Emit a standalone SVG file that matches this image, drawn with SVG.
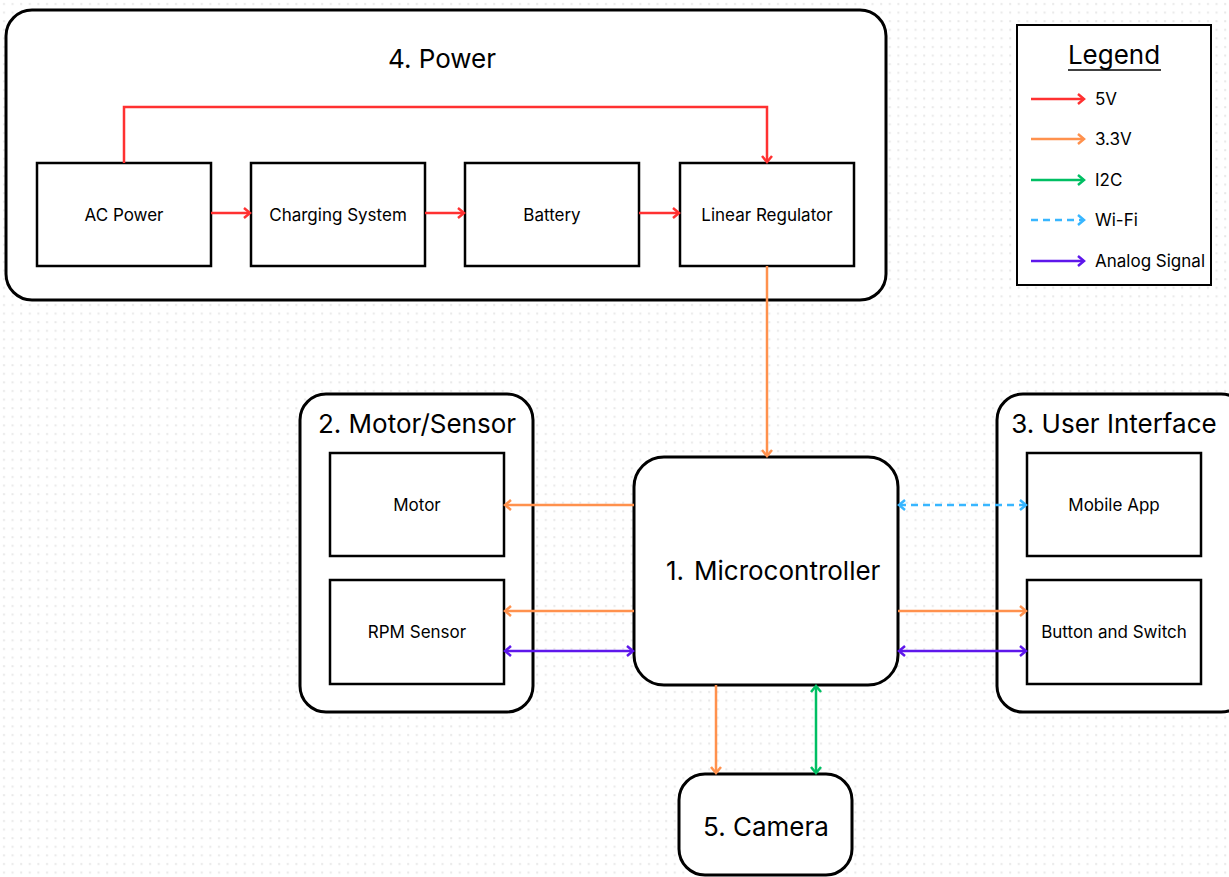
<svg xmlns="http://www.w3.org/2000/svg" width="1229" height="877" viewBox="0 0 1229 877">
<style>
.grp{fill:#fff;stroke:#000;stroke-width:3}
.box{fill:#fff;stroke:#000;stroke-width:2.5}
.t{font-family:Inter,"Liberation Sans",sans-serif;fill:#000;text-anchor:middle}
.sm{font-size:17px}
.lg{font-size:26px}
.ln{fill:none;stroke-width:2.5}
.r{stroke:#ff3131}
.o{stroke:#ff914d}
.g{stroke:#00bf63}
.b{stroke:#38b6ff;stroke-dasharray:7 5}
.p{stroke:#5e17eb}
</style>
<defs>
<pattern id="dots" width="8.6" height="8.6" patternUnits="userSpaceOnUse">
<rect x="3" y="3" width="2" height="2" fill="#e8e8e8"/>
</pattern>
<marker id="mr" markerUnits="userSpaceOnUse" markerWidth="12" markerHeight="14" refX="9" refY="6" orient="auto-start-reverse"><path d="M3,1 L9,6 L3,11" fill="none" stroke="#ff3131" stroke-width="2.5"/></marker>
<marker id="mo" markerUnits="userSpaceOnUse" markerWidth="12" markerHeight="14" refX="9" refY="6" orient="auto-start-reverse"><path d="M3,1 L9,6 L3,11" fill="none" stroke="#ff914d" stroke-width="2.5"/></marker>
<marker id="mg" markerUnits="userSpaceOnUse" markerWidth="12" markerHeight="14" refX="9" refY="6" orient="auto-start-reverse"><path d="M3,1 L9,6 L3,11" fill="none" stroke="#00bf63" stroke-width="2.5"/></marker>
<marker id="mb" markerUnits="userSpaceOnUse" markerWidth="12" markerHeight="14" refX="9" refY="6" orient="auto-start-reverse"><path d="M3,1 L9,6 L3,11" fill="none" stroke="#38b6ff" stroke-width="2.5"/></marker>
<marker id="mp" markerUnits="userSpaceOnUse" markerWidth="12" markerHeight="14" refX="9" refY="6" orient="auto-start-reverse"><path d="M3,1 L9,6 L3,11" fill="none" stroke="#5e17eb" stroke-width="2.5"/></marker>
</defs>
<rect width="1229" height="877" fill="#fff"/>
<rect width="1229" height="877" fill="url(#dots)"/>

<g id="power">
<rect class="grp" x="6" y="10" width="880" height="290" rx="26"/>
<text class="t lg" x="442" y="68">4. Power</text>
</g>
<g id="ac-power"><rect class="box" x="37" y="163" width="174" height="103"/><text class="t sm" x="124" y="221">AC Power</text></g>
<g id="charging-system"><rect class="box" x="251" y="163" width="174" height="103"/><text class="t sm" x="338" y="221">Charging System</text></g>
<g id="battery"><rect class="box" x="465" y="163" width="174" height="103"/><text class="t sm" x="552" y="221">Battery</text></g>
<g id="linear-regulator"><rect class="box" x="680" y="163" width="174" height="103"/><text class="t sm" x="767" y="221">Linear Regulator</text></g>

<g id="motor-sensor">
<rect class="grp" x="300" y="394" width="233" height="318" rx="26"/>
<text class="t lg" x="417" y="433">2. Motor/Sensor</text>
</g>
<g id="motor"><rect class="box" x="330" y="453" width="174" height="103"/><text class="t sm" x="417" y="511">Motor</text></g>
<g id="rpm-sensor"><rect class="box" x="330" y="580" width="174" height="104"/><text class="t sm" x="417" y="638">RPM Sensor</text></g>

<g id="user-interface">
<rect class="grp" x="997" y="394" width="250" height="318" rx="26"/>
<text class="t lg" x="1114" y="433">3. User Interface</text>
</g>
<g id="mobile-app"><rect class="box" x="1027" y="453" width="174" height="103"/><text class="t sm" x="1114" y="511">Mobile App</text></g>
<g id="button-switch"><rect class="box" x="1027" y="580" width="174" height="104"/><text class="t sm" x="1114" y="638">Button and Switch</text></g>

<g id="microcontroller">
<rect class="grp" x="634" y="457" width="264" height="228" rx="30"/>
<text class="t" x="666" y="580" font-size="26" style="text-anchor:start">1.<tspan x="694">Microcontroller</tspan></text>
</g>

<g id="camera">
<rect class="grp" x="679" y="774" width="173" height="101" rx="26"/>
<text class="t lg" x="766" y="836">5. Camera</text>
</g>

<g id="connectors">
<path class="ln r" d="M211,213 H250" marker-end="url(#mr)"/>
<path class="ln r" d="M425,213 H464" marker-end="url(#mr)"/>
<path class="ln r" d="M639,213 H679" marker-end="url(#mr)"/>
<path class="ln r" d="M124,163 V107 H767 V162" marker-end="url(#mr)"/>
<path class="ln o" d="M767,266 V456" marker-end="url(#mo)"/>
<path class="ln o" d="M634,505 H505" marker-end="url(#mo)"/>
<path class="ln o" d="M634,611 H505" marker-end="url(#mo)"/>
<path class="ln p" d="M505,651 H633" marker-start="url(#mp)" marker-end="url(#mp)"/>
<path class="ln b" d="M899,505 H1026" marker-start="url(#mb)" marker-end="url(#mb)"/>
<path class="ln o" d="M898,611 H1026" marker-end="url(#mo)"/>
<path class="ln p" d="M899,651 H1026" marker-start="url(#mp)" marker-end="url(#mp)"/>
<path class="ln o" d="M716,685 V773" marker-end="url(#mo)"/>
<path class="ln g" d="M816,686 V773" marker-start="url(#mg)" marker-end="url(#mg)"/>
</g>

<g id="legend">
<rect x="1017" y="25" width="194" height="260" fill="#fff" stroke="#000" stroke-width="2"/>
<text class="t lg" x="1114" y="64">Legend</text>
<line x1="1068" y1="70" x2="1161" y2="70" stroke="#000" stroke-width="1.5"/>
<path class="ln r" d="M1031,99 H1084" marker-end="url(#mr)"/>
<path class="ln o" d="M1031,139 H1084" marker-end="url(#mo)"/>
<path class="ln g" d="M1031,180 H1084" marker-end="url(#mg)"/>
<path class="ln b" d="M1031,220 H1084" marker-end="url(#mb)"/>
<path class="ln p" d="M1031,261 H1084" marker-end="url(#mp)"/>
<g class="t sm" style="text-anchor:start">
<text x="1095" y="105">5V</text>
<text x="1095" y="145">3.3V</text>
<text x="1095" y="186">I2C</text>
<text x="1095" y="226">Wi-Fi</text>
<text x="1095" y="267">Analog Signal</text>
</g>
</g>
</svg>
